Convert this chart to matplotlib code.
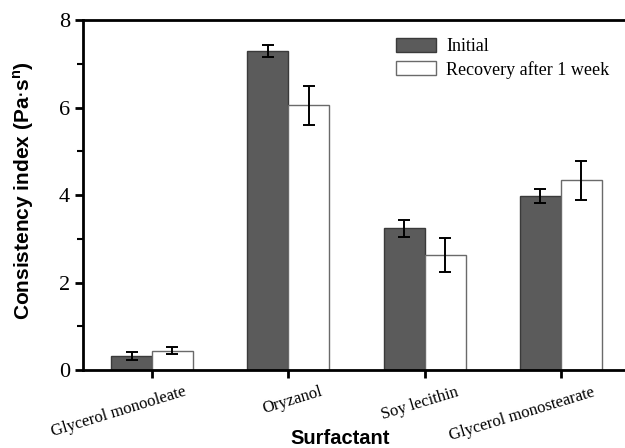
import matplotlib
matplotlib.use('Agg')
import matplotlib.pyplot as plt
from matplotlib.ticker import MultipleLocator
from matplotlib.transforms import ScaledTranslation
import numpy as np

## surfactant consistency index bar chart

surfactants = ['Glycerol monooleate', 'Oryzanol', 'Soy lecithin', 'Glycerol monostearate']
initial = [0.32, 7.29, 3.24, 3.98]
initial_err = [0.09, 0.14, 0.20, 0.15]
recovery = [0.44, 6.05, 2.63, 4.34]
recovery_err = [0.08, 0.45, 0.38, 0.45]
series_names = ['Initial', 'Recovery after 1 week']

serif = ['Liberation Serif', 'DejaVu Serif']
sans = ['Liberation Sans', 'DejaVu Sans']

fig = plt.figure(figsize=(6.25, 4.48), dpi=100)
ax = fig.add_axes([0.133, 0.174, 0.867, 0.781])

x = np.arange(len(surfactants))
w = 0.3
ax.bar(x - w/2, initial, w, color='#5b5b5b', edgecolor='#3a3a3a', lw=1, label=series_names[0], zorder=2)
ax.bar(x + w/2, recovery, w, color='white', edgecolor='#6a6a6a', lw=1, label=series_names[1], zorder=2)
ax.errorbar(x - w/2, initial, yerr=initial_err, fmt='none', ecolor='black', elinewidth=1.4, capsize=4, capthick=1.4, zorder=3)
ax.errorbar(x + w/2, recovery, yerr=recovery_err, fmt='none', ecolor='black', elinewidth=1.4, capsize=4, capthick=1.4, zorder=3)

ax.set_xlim(-0.505, 3.47)
ax.set_ylim(0, 8)
ax.yaxis.set_major_locator(MultipleLocator(2))
ax.yaxis.set_minor_locator(MultipleLocator(1))
ax.set_xticks(x)
ax.set_xticklabels([])
# rotated category labels, right end sits a bit right of the tick
shift = ScaledTranslation(36/100, -14/100, fig.dpi_scale_trans)
for xi, name in zip(x, surfactants):
    ax.text(xi, 0, name, rotation=17, ha='right', va='top', family=serif, fontsize=12,
            transform=ax.get_xaxis_transform() + shift, clip_on=False)
for t in ax.get_yticklabels():
    t.set_family(serif)
    t.set_fontsize(16)

ax.spines['right'].set_visible(False)
for s in ['left', 'bottom', 'top']:
    ax.spines[s].set_linewidth(2)
ax.tick_params(axis='both', which='major', direction='out', length=6, width=2)
ax.tick_params(axis='y', which='minor', direction='out', length=4, width=1.5)

ax.set_ylabel('Consistency index (Pa$\\cdot$s$^{\\mathregular{n}}$)', family=sans, fontweight='bold', fontsize=15)
ax.yaxis.set_label_coords(-0.087, 0.514)
ax.set_xlabel('Surfactant', family=sans, fontweight='bold', fontsize=14.5)
ax.xaxis.set_label_coords(0.474, -0.168)

leg = ax.legend(loc='upper left', bbox_to_anchor=(0.547, 0.995), frameon=False,
                prop={'family': serif, 'size': 13}, handlelength=2.2, handleheight=0.8,
                handletextpad=0.6, labelspacing=0.3)

plt.savefig('out.png', dpi=100)
